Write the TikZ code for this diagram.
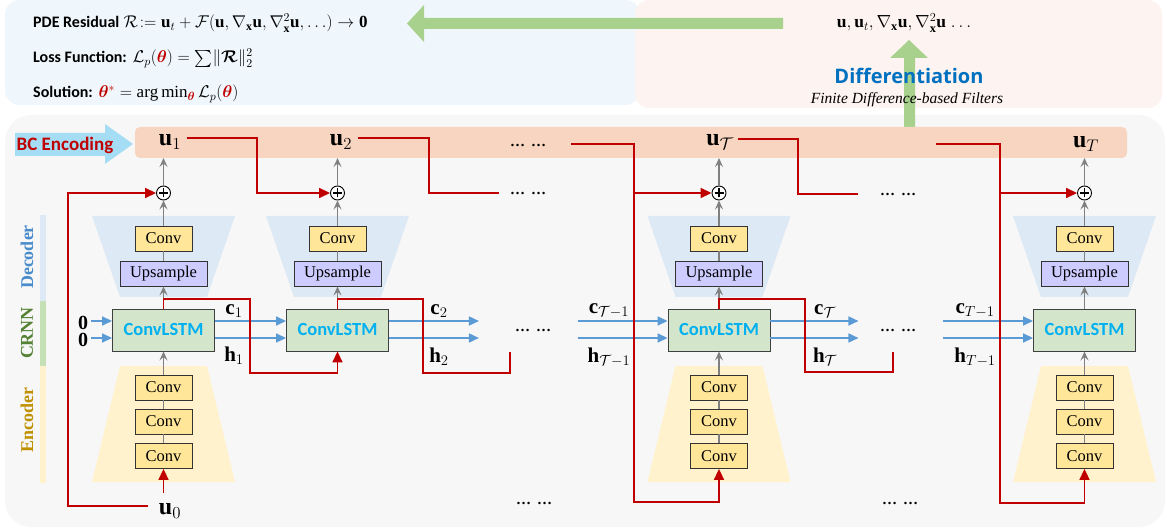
\RequirePackage{fix-cm}
\documentclass[tikz,border=0pt]{standalone}
\usepackage{amsmath,amssymb,bm}
\usepackage{fontspec}
\setmainfont{Liberation Serif}
\newfontfamily\calib{Carlito}
\newfontfamily\opensans{Open Sans}
\usetikzlibrary{arrows.meta,calc}
\definecolor{bluepanel}{HTML}{EFF7FC}
\definecolor{pinkpanel}{HTML}{FDF3F0}
\definecolor{graypanel}{HTML}{F7F7F7}
\definecolor{orangebar}{HTML}{F8D5C0}
\definecolor{bcarrow}{HTML}{A5DDF4}
\definecolor{greenarrow}{HTML}{A9D18E}
\definecolor{dectrap}{HTML}{DDEAF6}
\definecolor{enctrap}{HTML}{FFF2CC}
\definecolor{convfill}{HTML}{FFE699}
\definecolor{upsfill}{HTML}{CCCCFF}
\definecolor{lstmfill}{HTML}{D3E6CB}
\definecolor{lstmtext}{HTML}{00B0F0}
\definecolor{myred}{HTML}{C00000}
\definecolor{myblue}{HTML}{5B9BD5}
\definecolor{diffblue}{HTML}{0070C0}
\definecolor{crnnbar}{HTML}{C5E0B4}
\definecolor{crnntext}{HTML}{548235}
\definecolor{dectext}{HTML}{4A8CCB}
\definecolor{enctext}{HTML}{BF9000}
\newcommand\fsz[1]{\fontsize{#1}{#1}\selectfont}
\begin{document}
\begin{tikzpicture}[x=1pt,y=-1pt,
  convbox/.style={draw=black!80, fill=convfill, minimum width=57pt, minimum height=25pt, inner sep=0pt, line width=0.8pt, font=\fsz{16.5}},
  upsbox/.style={convbox, fill=upsfill, minimum width=87pt},
  lstmbox/.style={draw=black!75, fill=lstmfill, minimum width=102pt, minimum height=42pt, inner sep=0pt, line width=0.9pt, font=\calib\bfseries\fsz{18.5}, text=lstmtext},
  plusnode/.style={circle, draw=black, fill=white, line width=0.9pt, minimum size=14pt, inner sep=0pt,
    path picture={\draw[line width=1.1pt] ([xshift=-4.5pt]path picture bounding box.center) -- ([xshift=4.5pt]path picture bounding box.center);
                  \draw[line width=1.1pt] ([yshift=-4.5pt]path picture bounding box.center) -- ([yshift=4.5pt]path picture bounding box.center);}},
  grayline/.style={draw=black!50, line width=1.4pt},
  grayarrow/.style={grayline, -{Stealth[length=9pt,width=8pt,inset=3.5pt]}},
  redline/.style={draw=myred, line width=1.6pt},
  redarrow/.style={redline, -{Triangle[length=11pt,width=10pt]}},
  bluearrow/.style={draw=myblue, line width=1.6pt, -{Triangle[length=10pt,width=9pt]}},
  ulabel/.style={inner sep=0pt, font=\fsz{24}},
  chlabel/.style={inner sep=0pt, font=\fsz{21}},
  dotsn/.style={inner sep=0pt, font=\bfseries\fsz{15}},
  sidelabel/.style={rotate=90, inner sep=0pt, font=\bfseries\fsz{18}},
  toptext/.style={anchor=base west, inner sep=0pt, font=\fsz{17}}
]
\useasboundingbox (0,0) rectangle (1167,529);
% panels
\fill[bluepanel, rounded corners=14pt] (5,0) rectangle (640,105);
\fill[pinkpanel, rounded corners=14pt] (635,0) rectangle (1162,108);
\fill[graypanel, rounded corners=26pt] (5,115) rectangle (1165,527);
% top-left text
\node[toptext] (t1) at (33,28) {{\calib\bfseries\fsz{16}PDE Residual} $\mathcal{R}\!:=\mathbf{u}_t+\mathcal{F}(\mathbf{u},\nabla_{\mathbf{x}}\mathbf{u},\nabla^2_{\mathbf{x}}\mathbf{u},{\ldots})\to\mathbf{0}$};
\node[toptext] (t2) at (33,63) {{\calib\bfseries\fsz{16}Loss Function:} $\mathcal{L}_p(\textcolor{myred}{\bm{\theta}})=\sum\!\|\bm{\mathcal{R}}\|_2^2$};
\node[toptext] (t3) at (33,98) {{\calib\bfseries\fsz{16}Solution:} $\textcolor{myred}{\bm{\theta}^*}=\arg\min_{\textcolor{myred}{\bm{\theta}}}\mathcal{L}_p(\textcolor{myred}{\bm{\theta}})$};
% top-right text
\node[inner sep=0pt, font=\fsz{17.5}] (deriv) at (904,23) {$\mathbf{u},\mathbf{u}_t,\nabla_{\mathbf{x}}\mathbf{u},\nabla^2_{\mathbf{x}}\mathbf{u}\;{\ldots}$};
% green arrows
\fill[greenarrow] (783,18) -- (424,18) -- (424,5) -- (407,23.5) -- (424,42) -- (424,29) -- (783,29) -- cycle;
\fill[greenarrow] (904,127) -- (904,58) -- (890,58) -- (909,40) -- (928,58) -- (915,58) -- (915,127) -- cycle;
\node[inner sep=0pt, font=\opensans\bfseries\fsz{20}, text=diffblue] (diff) at (909,76) {Differentiation};
\node[inner sep=0pt, font=\itshape\fsz{15.5}] (fdf) at (907,100) {Finite Difference-based Filters};
% top bar
\fill[orangebar, rounded corners=5pt] (135,127) rectangle (1127,158);
\fill[bcarrow] (15,133) -- (105,133) -- (105,124) -- (133,144) -- (105,164) -- (105,156) -- (15,156) -- cycle;
\node[inner sep=0pt, font=\calib\bfseries\fsz{19}, text=myred] (bc) at (65,145) {BC Encoding};
% side labels
\fill[dectrap] (40,215) rectangle (46,301);
\fill[crnnbar] (40,301) rectangle (46,366);
\fill[enctrap] (40,366) rectangle (46,483);
\node[sidelabel, text=dectext] (declab) at (27,257) {Decoder};
\node[sidelabel, text=crnntext] (crnnlab) at (27,333) {CRNN};
\node[sidelabel, text=enctext] (enclab) at (27,420) {Encoder};
% columns
\foreach \n/\x in {1/163.5, 2/337.5, 3/719, 4/1084.5} {
  \fill[dectrap] (\x-71.5,216) -- (\x+71.5,216) -- (\x+43.5,297) -- (\x-43.5,297) -- cycle;
  \node[lstmbox] (lstm\n) at (\x,330) {ConvLSTM};
  \node[upsbox] (ups\n) at (\x,273.5) {Upsample};
  \node[convbox] (dconv\n) at (\x,238.5) {Conv};
  \node[plusnode] (plus\n) at (\x,193) {};
  \coordinate (bar\n) at (\x,158);
  \draw[grayarrow] (lstm\n.north) -- (ups\n.south);
  \draw[grayline] (ups\n.north) -- (dconv\n.south);
  \draw[grayarrow] (dconv\n.north) -- (plus\n.south);
  \draw[grayarrow] (plus\n.north) -- (bar\n);
  \ifnum\n=2\relax\else
  \fill[enctrap] (\x-43.5,366) -- (\x+43.5,366) -- (\x+71.5,482) -- (\x-71.5,482) -- cycle;
  \node[convbox] (ea\n) at (\x,387.5) {Conv};
  \node[convbox] (eb\n) at (\x,421.5) {Conv};
  \node[convbox] (ec\n) at (\x,456) {Conv};
  \draw[grayline] (ec\n.north) -- (eb\n.south);
  \draw[grayline] (eb\n.north) -- (ea\n.south);
  \draw[grayarrow] (ea\n.north) -- (lstm\n.south);
  \fi
}
% labels in bar
\node[ulabel] (u1) at (170,142) {$\mathbf{u}_1$};
\node[ulabel] (u2) at (341,142) {$\mathbf{u}_2$};
\node[dotsn] (dtop) at (528,145) {…\hspace{6pt}…};
\node[ulabel] (u3) at (720,142) {$\mathbf{u}_{\mathcal{T}}$};
\node[ulabel] (u4) at (1086,144) {$\mathbf{u}_{T}$};
\node[ulabel] (u0) at (170,511) {$\mathbf{u}_0$};
% dots
\node[dotsn] (drow2a) at (528,193) {…\hspace{6pt}…};
\node[dotsn] (drow2b) at (898,194) {…\hspace{6pt}…};
\node[dotsn] (dmida) at (533,330) {…\hspace{6pt}…};
\node[dotsn] (dmidb) at (898,330) {…\hspace{6pt}…};
\node[dotsn] (dbota) at (534,503) {…\hspace{6pt}…};
\node[dotsn] (dbotb) at (900,503) {…\hspace{6pt}…};
% zero inputs
\node[chlabel, font=\fsz{20}] (z1) at (83,323) {$\mathbf{0}$};
\node[chlabel, font=\fsz{20}] (z2) at (83,340) {$\mathbf{0}$};
% c/h labels
\node[chlabel] (c1) at (234,311) {$\mathbf{c}_1$};
\node[chlabel] (h1) at (234,356) {$\mathbf{h}_1$};
\node[chlabel] (c2) at (439,311) {$\mathbf{c}_2$};
\node[chlabel] (h2) at (439,357) {$\mathbf{h}_2$};
\node[chlabel] (c3a) at (609,311) {$\mathbf{c}_{\mathcal{T}-1}$};
\node[chlabel] (h3a) at (609,357) {$\mathbf{h}_{\mathcal{T}-1}$};
\node[chlabel] (c3) at (825,311) {$\mathbf{c}_{\mathcal{T}}$};
\node[chlabel] (h3) at (825,357) {$\mathbf{h}_{\mathcal{T}}$};
\node[chlabel] (c4a) at (975,311) {$\mathbf{c}_{T-1}$};
\node[chlabel] (h4a) at (975,357) {$\mathbf{h}_{T-1}$};
% blue arrows
\draw[bluearrow] ($(lstm1.west)+(-21,-9)$) -- ($(lstm1.west)+(0,-9)$);
\draw[bluearrow] ($(lstm1.west)+(-21,8)$) -- ($(lstm1.west)+(0,8)$);
\draw[bluearrow] ($(lstm1.east)+(0,-9)$) -- ($(lstm2.west)+(0,-9)$);
\draw[bluearrow] ($(lstm1.east)+(0,8)$) -- ($(lstm2.west)+(0,8)$);
\draw[bluearrow] ($(lstm2.east)+(0,-9)$) -- ($(lstm2.east)+(90,-9)$);
\draw[bluearrow] ($(lstm2.east)+(0,8)$) -- ($(lstm2.east)+(90,8)$);
\draw[bluearrow] ($(lstm3.west)+(-90,-9)$) -- ($(lstm3.west)+(0,-9)$);
\draw[bluearrow] ($(lstm3.west)+(-90,8)$) -- ($(lstm3.west)+(0,8)$);
\draw[bluearrow] ($(lstm3.east)+(0,-9)$) -- ($(lstm3.east)+(88,-9)$);
\draw[bluearrow] ($(lstm3.east)+(0,8)$) -- ($(lstm3.east)+(88,8)$);
\draw[bluearrow] ($(lstm4.west)+(-90,-9)$) -- ($(lstm4.west)+(0,-9)$);
\draw[bluearrow] ($(lstm4.west)+(-90,8)$) -- ($(lstm4.west)+(0,8)$);
% red connectors
\coordinate (u0tail) at (148,506);
\coordinate (u0up) at (163.5,493);
\draw[redarrow] (u0tail) -- (68,506) -- (68,193) -- (plus1.west);
\draw[redarrow] (u0up) -- (ec1.south);
\draw[redarrow] (lstm1.north) -- (163.5,299) -- (250,299) -- (250,373) -- (337.5,373) -- (lstm2.south);
\coordinate (u1r) at (187,138);
\draw[redarrow] (u1r) -- (257,138) -- (257,193) -- (plus2.west);
\coordinate (u2r) at (358,138);
\coordinate (u2e) at (499,193);
\draw[redline] (u2r) -- (429,138) -- (429,193) -- (u2e);
\coordinate (l2e) at (510,352);
\draw[redline] (lstm2.north) -- (337.5,299) -- (423,299) -- (423,373) -- (510,373) -- (l2e);
\coordinate (d3s) at (571,144);
\draw[redarrow] (d3s) -- (634,144) -- (634,502) -- (719,502) -- (ec3.south);
\coordinate (br3) at (634,193);
\draw[redarrow] (br3) -- (plus3.west);
\coordinate (u3r) at (738,139);
\coordinate (u3e) at (858,194);
\draw[redline] (u3r) -- (798,139) -- (798,194) -- (u3e);
\coordinate (l3e) at (893,352);
\draw[redline] (lstm3.north) -- (719,299) -- (805,299) -- (805,372) -- (893,372) -- (l3e);
\coordinate (d4s) at (936,144);
\draw[redarrow] (d4s) -- (1000,144) -- (1000,503) -- (1084.5,503) -- (ec4.south);
\coordinate (br4) at (1000,193);
\draw[redarrow] (br4) -- (plus4.west);
\end{tikzpicture}
\end{document}
